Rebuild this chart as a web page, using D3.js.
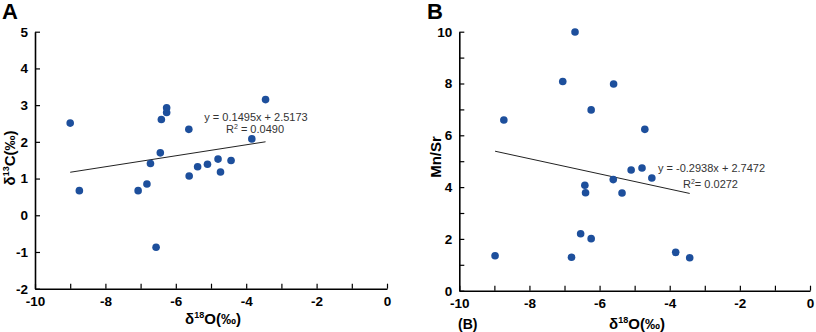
<!DOCTYPE html>
<html>
<head>
<meta charset="utf-8">
<script src="https://cdn.jsdelivr.net/npm/d3@7.9.0/dist/d3.min.js"></script>
<style>
  body { margin: 0; background: #fff; }
  svg { font-family: "Liberation Sans", Arial, sans-serif; }
</style>
</head>
<body>
<svg id="chart" width="816" height="332"></svg>
<script>
// panel A: d18O vs d13C
const d18O_A = [-9.0, -3.45, -6.26, -6.26, -6.41, -5.63, -3.84, -6.44, -6.72, -5.38, -5.1, -4.8, -4.43, -5.62, -4.73, -8.74, -7.07, -6.82, -6.56];
const d13C_A = [2.51, 3.15, 2.93, 2.80, 2.61, 2.34, 2.08, 1.70, 1.41, 1.32, 1.39, 1.53, 1.49, 1.07, 1.18, 0.67, 0.67, 0.85, -0.87];

// panel B: d18O vs Mn/Sr
const d18O_B = [-6.70, -7.05, -5.60, -6.24, -8.73, -4.71, -5.10, -4.79, -4.51, -5.61, -6.42, -6.40, -5.36, -6.54, -6.24, -8.98, -6.80, -3.83, -3.43];
const mnsr_B = [9.99, 8.08, 7.98, 6.98, 6.59, 6.23, 4.66, 4.74, 4.35, 4.29, 4.07, 3.78, 3.77, 2.20, 2.01, 1.35, 1.29, 1.48, 1.27];

const fitA = { slope: 0.1495, intercept: 2.5173, r2: "0.0490" };
const fitB = { slope: -0.2938, intercept: 2.7472, r2: "0.0272" };

const xTicks = d3.range(-10, 1, 1);
const yTicksA = d3.range(-2, 6, 1);
const yTicksB = d3.range(0, 11, 1);

const dotColor = "#1d4f9c";
const svg = d3.select("#chart");

function drawPanel(opt) {
  const x = d3.scaleLinear().domain([-10, 0]).range(opt.xRange);
  const y = d3.scaleLinear().domain(opt.yDomain).range(opt.yRange);
  const g = svg.append("g");

  const xAxis = g.append("g")
    .attr("transform", `translate(0,${opt.yRange[0]})`)
    .call(d3.axisBottom(x).tickValues(xTicks).tickSizeInner(-5).tickSizeOuter(0)
      .tickFormat(d => d % 2 === 0 ? d : ""));

  const yAxis = g.append("g")
    .attr("transform", `translate(${opt.xRange[0]},0)`)
    .call(d3.axisLeft(y).tickValues(opt.yTicks).tickSizeInner(-5).tickSizeOuter(0)
      .tickFormat(opt.yFormat));

  [xAxis, yAxis].forEach(a => {
    a.attr("font-size", 13).attr("font-family", null);
    a.select(".domain").attr("stroke", "#000").attr("stroke-width", 1.6);
    a.selectAll(".tick line").attr("stroke", "#000").attr("stroke-width", 1.2);
    a.selectAll(".tick text").attr("fill", "#000")
      .style("font-size", "13.5px").style("font-weight", "bold");
  });
  xAxis.selectAll(".tick text").attr("dy", "0.71em").attr("y", 8);
  yAxis.selectAll(".tick text").attr("x", -7);

  // trend line over data range
  const ext = d3.extent(opt.xs);
  const line = d3.line().x(d => x(d)).y(d => y(opt.fit.slope * d + opt.fit.intercept));
  g.append("path")
    .datum(ext)
    .attr("d", line)
    .attr("fill", "none")
    .attr("stroke", "#222")
    .attr("stroke-width", 1);

  g.selectAll("circle.dot")
    .data(opt.xs.map((v, i) => [v, opt.ys[i]]))
    .join("circle")
    .attr("class", "dot")
    .attr("cx", d => x(d[0]))
    .attr("cy", d => y(d[1]))
    .attr("r", 3.8)
    .attr("fill", dotColor);

  // equation
  g.append("text")
    .attr("font-size", "11px").attr("fill", "#333")
    .attr("text-anchor", opt.eqAnchor)
    .attr("x", opt.eqPos[0]).attr("y", opt.eqPos[1])
    .text(opt.eqText);
  const r = g.append("text")
    .attr("font-size", "11px").attr("fill", "#333")
    .attr("text-anchor", opt.eqAnchor)
    .attr("x", opt.r2Pos[0]).attr("y", opt.r2Pos[1]);
  r.append("tspan").text("R");
  r.append("tspan").attr("font-size", "7px").attr("dy", -4).text("2");
  r.append("tspan").attr("dy", 4).text(opt.r2Text);

  // panel letter
  g.append("text")
    .attr("x", opt.letterPos[0]).attr("y", opt.letterPos[1])
    .attr("font-size", "22px").attr("font-weight", "bold")
    .text(opt.letter);

  // x label
  const xl = g.append("text")
    .attr("x", opt.xLabelPos[0]).attr("y", opt.xLabelPos[1])
    .attr("text-anchor", "middle")
    .attr("font-size", "15px").attr("font-weight", "bold");
  xl.append("tspan").text("δ");
  xl.append("tspan").attr("font-size", "9px").attr("dy", -6).text("18");
  xl.append("tspan").attr("dy", 6).text("O(‰)");

  // y label
  const yl = g.append("text")
    .attr("transform", `translate(${opt.yLabelPos[0]},${opt.yLabelPos[1]}) rotate(-90)`)
    .attr("text-anchor", "middle")
    .attr("font-size", "15px").attr("font-weight", "bold");
  opt.yLabel(yl);

  return g;
}

drawPanel({
  xRange: [35, 387], yDomain: [-2, 5], yRange: [288.7, 31.7], yTicks: yTicksA,
  yFormat: d => d, xs: d18O_A, ys: d13C_A, fit: fitA,
  eqText: "y = 0.1495x + 2.5173", eqAnchor: "middle", eqPos: [256, 121],
  r2Text: " = " + fitA.r2, r2Pos: [255, 133],
  letter: "A", letterPos: [2, 19],
  xLabelPos: [213, 324],
  yLabelPos: [15, 158],
  yLabel: t => {
    t.append("tspan").text("δ");
    t.append("tspan").attr("font-size", "9px").attr("dy", -6).text("13");
    t.append("tspan").attr("dy", 6).text("C(‰)");
  }
});

const gB = drawPanel({
  xRange: [459.3, 810], yDomain: [0, 10], yRange: [290.7, 31.7], yTicks: yTicksB,
  yFormat: d => d % 2 === 0 ? d : "", xs: d18O_B, ys: mnsr_B, fit: fitB,
  eqText: "y = -0.2938x + 2.7472", eqAnchor: "start", eqPos: [658, 172],
  r2Text: "= " + fitB.r2, r2Pos: [683, 188],
  letter: "B", letterPos: [427, 19],
  xLabelPos: [637, 329],
  yLabelPos: [441, 157],
  yLabel: t => t.text("Mn/Sr")
});

gB.append("text")
  .attr("x", 458).attr("y", 329)
  .attr("font-size", "14px").attr("font-weight", "bold")
  .text("(B)");
</script>
</body>
</html>
